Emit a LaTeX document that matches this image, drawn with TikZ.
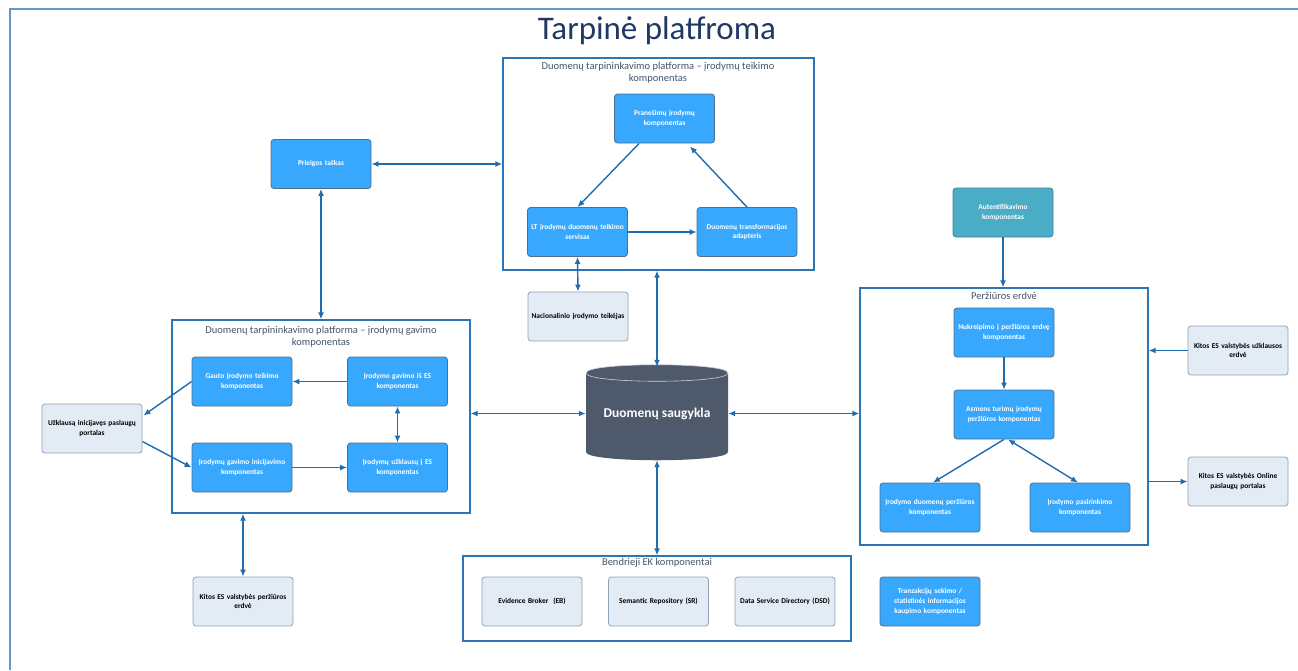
\documentclass[tikz,border=0pt]{standalone}
\usepackage{fontspec}
\setmainfont{Carlito}
\usetikzlibrary{arrows.meta,calc}
\definecolor{frameblue}{HTML}{2E75B6}
\definecolor{arrowblue}{HTML}{1F6DB0}
\definecolor{nodeblue}{HTML}{38A8FF}
\definecolor{nodeborder}{HTML}{4F6F8A}
\definecolor{lightfill}{HTML}{E3EBF4}
\definecolor{lightborder}{HTML}{8FA3B8}
\definecolor{tealfill}{HTML}{4BACC6}
\definecolor{tealborder}{HTML}{3A8799}
\definecolor{titlenavy}{HTML}{1F3864}
\definecolor{ctitle}{HTML}{44546A}
\definecolor{dbfill}{HTML}{4E5A6C}
\begin{document}
\begin{tikzpicture}[x=1pt,y=-1pt,
  bluebox/.style={draw=nodeborder,fill=nodeblue,rounded corners=3pt,line width=0.8pt,
    minimum width=100pt,minimum height=49pt,text width=98pt,align=center,
    font=\fontsize{7.4}{9.6}\selectfont\bfseries,text=white,inner sep=1pt},
  lightbox/.style={draw=lightborder,fill=lightfill,rounded corners=3pt,line width=0.8pt,
    minimum width=100pt,minimum height=49pt,text width=98pt,align=center,
    font=\fontsize{7.4}{9.6}\selectfont\bfseries,text=black,inner sep=1pt},
  tealbox/.style={bluebox,draw=tealborder,fill=tealfill},
  container/.style={draw=frameblue,line width=1.3pt},
  ctitle/.style={font=\fontsize{10.5}{12}\selectfont,text=ctitle,align=center},
  arr/.style={draw=arrowblue,line width=1.4pt,-{Latex[length=7pt,width=6pt]}},
  dbl/.style={draw=arrowblue,line width=1.4pt,{Latex[length=7pt,width=6pt]}-{Latex[length=7pt,width=6pt]}},
  plain/.style={draw=arrowblue,line width=1.4pt}
]
\useasboundingbox (0,0) rectangle (1298,670);
% outer frame
\coordinate (ftr) at (1298,9);
\coordinate (ftl) at (10,9);
\coordinate (fbl) at (10,670);
\draw[draw=frameblue!75,line width=1.5pt] (ftr) -- (ftl) -- (fbl);
\node[font=\fontsize{33}{36}\selectfont,text=titlenavy] (title) at (657,31) {Tarpinė platfroma};

% top container (teikimo)
\node[container,minimum width=311pt,minimum height=212pt,inner sep=0pt] (teik) at (658.5,164) {};
\node[ctitle] (teikt) at (658,73) {Duomenų tarpininkavimo platforma – įrodymų teikimo\\komponentas};
\node[bluebox] (pran) at (664.5,118.5) {Pranešimų įrodymų\\komponentas};
\node[bluebox] (lt) at (577.5,232) {LT įrodymų duomenų teikimo\\servisas};
\node[bluebox] (adapt) at (747,232) {Duomenų transformacijos\\adapteris};
\draw[arr] (pran.south west) ++(25,0) coordinate (p1) -- ($(lt.north)+(0,0)$);
\draw[arr] (adapt.north) -- ($(pran.south east)+(-25,3)$) coordinate (p2);
\draw[arr] (lt.east) -- (adapt.west);

% Prieigos
\node[bluebox] (prieig) at (321,164) {Prieigos taškas};
\draw[dbl] (prieig.east) -- (teik.west |- prieig.east);

% gavimo container
\node[container,minimum width=298pt,minimum height=193pt,inner sep=0pt] (gav) at (321,416.5) {};
\node[ctitle] (gavt) at (321,337) {Duomenų tarpininkavimo platforma – įrodymų gavimo\\komponentas};
\node[bluebox] (gauto) at (242,381.5) {Gauto įrodymo teikimo\\komponentas};
\node[bluebox] (gaves) at (397.5,381.5) {Įrodymo gavimo iš ES\\komponentas};
\node[bluebox] (inic) at (242,467.5) {Įrodymų gavimo inicijavimo\\komponentas};
\node[bluebox] (uzkl) at (397.5,467.5) {Įrodymų užklausų į ES\\komponentas};
\draw[arr] (gaves.west) -- (gauto.east);
\draw[arr] (inic.east) -- (uzkl.west);
\draw[dbl] (gaves.south) -- (uzkl.north);
\draw[dbl] (prieig.south) -- (gav.north -| prieig.south);

% portal
\node[lightbox] (portal) at (92,428.5) {Užklausą inicijavęs paslaugų\\portalas};
\draw[arr] (gauto.west) -- ($(portal.east)+(1,-13)$) coordinate (p3);
\draw[arr] ($(portal.east)+(0,13)$) coordinate (p4) -- (inic.west);

% database
\fill[dbfill] (586,373) -- (586,452) .. controls (586,463) and (728,463) .. (728,452)
  -- (728,373) .. controls (728,362) and (586,362) .. (586,373) -- cycle;
\draw[white!70!dbfill,line width=0.6pt] (586,373) .. controls (586,384) and (728,384) .. (728,373);
\draw[white!70!dbfill,line width=0.6pt] (586,373) .. controls (586,362) and (728,362) .. (728,373);
\node[minimum width=142pt,minimum height=93pt,inner sep=0pt,text=white,
  font=\fontsize{13.5}{15}\selectfont\bfseries] (db) at (657,413.5) {Duomenų saugykla};
\draw[dbl] (gav.east |- db.west) -- (db.west);
\draw[dbl] (teik.south -| db.north) -- (db.north);

% nacionalinio
\node[lightbox] (nac) at (578,316.5) {Nacionalinio įrodymo teikėjas};
\draw[dbl] (lt.south) -- (nac.north);

% bendrieji
\node[container,minimum width=388pt,minimum height=85pt,inner sep=0pt] (bend) at (657,598.5) {};
\node[ctitle] (bendt) at (657,563) {Bendrieji EK komponentai};
\node[lightbox] (eb) at (532,601.5) {Evidence Broker~ (EB)};
\node[lightbox] (sr) at (658.5,601.5) {Semantic Repository (SR)};
\node[lightbox] (dsd) at (785,601.5) {Data Service Directory (DSD)};
\draw[dbl] (db.south) -- (bend.north -| db.south);

% perziuros
\node[container,minimum width=288pt,minimum height=257pt,inner sep=0pt] (perz) at (1004,416.5) {};
\node[ctitle] (perzt) at (1004,296) {Peržiūros erdvė};
\node[bluebox] (nukr) at (1004,332.5) {Nukreipimo į peržiūros erdvę\\komponentas};
\node[bluebox] (asm) at (1004,414.5) {Asmens turimų įrodymų\\peržiūros komponentas};
\node[bluebox] (idp) at (930,507.5) {Įrodymo duomenų peržiūros\\komponentas};
\node[bluebox] (ips) at (1080,507.5) {Įrodymo pasirinkimo\\komponentas};
\draw[arr] (nukr.south) -- (asm.north);
\draw[arr] (asm.south) -- ($(idp.north)+(3,0)$);
\draw[dbl] ($(asm.south)+(4,0)$) -- ($(ips.north)+(-2,0)$);
\draw[dbl] (db.east) -- (perz.west |- db.east);

% autentifikavimo
\node[tealbox] (auth) at (1003,212.5) {Autentifikavimo\\komponentas};
\draw[arr] (auth.south) -- (perz.north -| auth.south);

% kitos ES
\node[lightbox] (kuz) at (1238,350.5) {Kitos ES valstybės užklausos\\erdvė};
\draw[arr] (kuz.west) -- (perz.east |- kuz.west);
\node[lightbox] (kon) at (1238,481.5) {Kitos ES valstybės Online\\paslaugų portalas};
\draw[arr] (perz.east |- kon.west) -- (kon.west);
\node[lightbox] (kper) at (243,601.5) {Kitos ES valstybės peržiūros\\erdvė};
\draw[dbl] (gav.south -| kper.north) -- (kper.north);

% tranzakciju
\node[bluebox] (tranz) at (930,601.5) {Tranzakcijų sekimo /\\statistinės informacijos\\kaupimo komponentas};
\end{tikzpicture}
\end{document}
